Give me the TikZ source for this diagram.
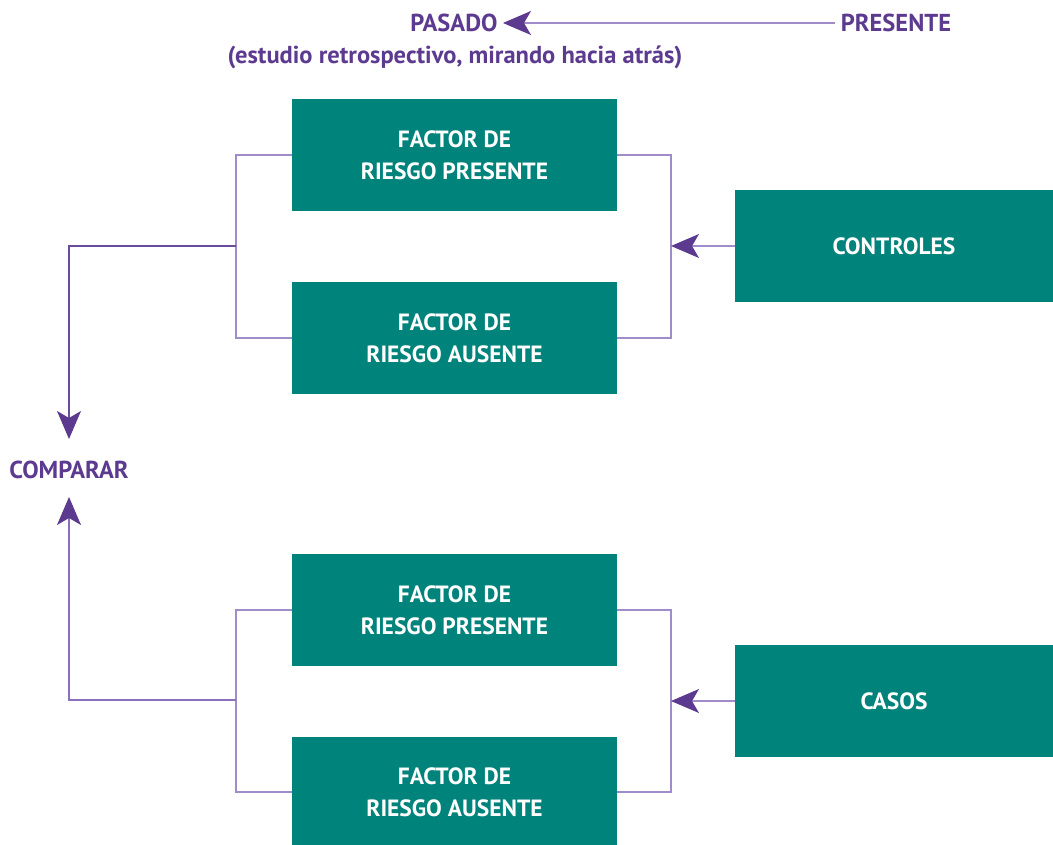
\documentclass[tikz,border=0pt]{standalone}
\usepackage{fontspec}
\setmainfont{PT Sans}
\usetikzlibrary{arrows.meta}
\definecolor{teal1}{HTML}{00837A}
\definecolor{purp}{HTML}{5C3A8F}
\definecolor{lpurp}{HTML}{A08CC8}
\definecolor{mpurp}{HTML}{8A70BA}
\definecolor{dpurp}{HTML}{6A4C9C}
\begin{document}
\begin{tikzpicture}[x=1pt,y=-1pt,
  box/.style={fill=teal1,draw=none,text=white,font=\fontsize{23.5}{32}\selectfont\bfseries,align=center,inner sep=0pt},
  lbl/.style={text=purp,font=\fontsize{24.5}{28}\selectfont\bfseries,inner sep=0pt},
  thin/.style={draw=lpurp,line width=1.3pt},
  mid/.style={draw=mpurp,line width=1.3pt},
  dark/.style={draw=dpurp,line width=1.3pt},
  tip/.style={-{Stealth[length=28pt,width=24pt,inset=7pt,fill=purp,color=purp]}}]
\useasboundingbox (0,0) rectangle (1053,845);
% boxes
\node[box,minimum width=325pt,minimum height=112pt] (b1) at (454.5,155) {FACTOR DE\\RIESGO PRESENTE};
\node[box,minimum width=325pt,minimum height=112pt] (b2) at (454.5,338) {FACTOR DE\\RIESGO AUSENTE};
\node[box,minimum width=318pt,minimum height=112pt] (ctrl) at (894,246) {CONTROLES};
\node[box,minimum width=325pt,minimum height=112pt] (b3) at (454.5,610) {FACTOR DE\\RIESGO PRESENTE};
\node[box,minimum width=325pt,minimum height=110pt] (b4) at (454.5,792) {FACTOR DE\\RIESGO AUSENTE};
\node[box,minimum width=318pt,minimum height=112pt] (casos) at (894,701) {CASOS};
% labels
\node[lbl] (pasado) at (454,23) {PASADO};
\node[lbl] (presente) at (896,23) {PRESENTE};
\node[lbl] (sub) at (455,57) {(estudio retrospectivo, mirando hacia atrás)};
\node[lbl] (comp) at (69,470) {COMPARAR};
% coordinates
\coordinate (jt) at (236,246);
\coordinate (jb) at (236,700);
\coordinate (rt) at (671,246);
\coordinate (rb) at (671,701);
\coordinate (pa) at (503,23);
\coordinate (pr) at (835,23);
\coordinate (ct) at (69,439);
\coordinate (cb) at (69,497);
% top arrow
\draw[thin,tip] (pr) -- (pa);
% top brackets
\draw[thin] (b1.west) -- (236,155) -- (236,338) -- (b2.west);
\draw[thin] (b1.east) -- (671,155) -- (671,338) -- (b2.east);
\draw[thin,tip] (ctrl.west) -- (rt);
\draw[dark,tip] (jt) -- (69,246) -- (ct);
% bottom brackets
\draw[thin] (b3.west) -- (236,610) -- (236,792) -- (b4.west);
\draw[thin] (b3.east) -- (671,610) -- (671,792) -- (b4.east);
\draw[thin,tip] (casos.west) -- (rb);
\draw[mid,tip] (jb) -- (69,700) -- (cb);
\end{tikzpicture}
\end{document}
